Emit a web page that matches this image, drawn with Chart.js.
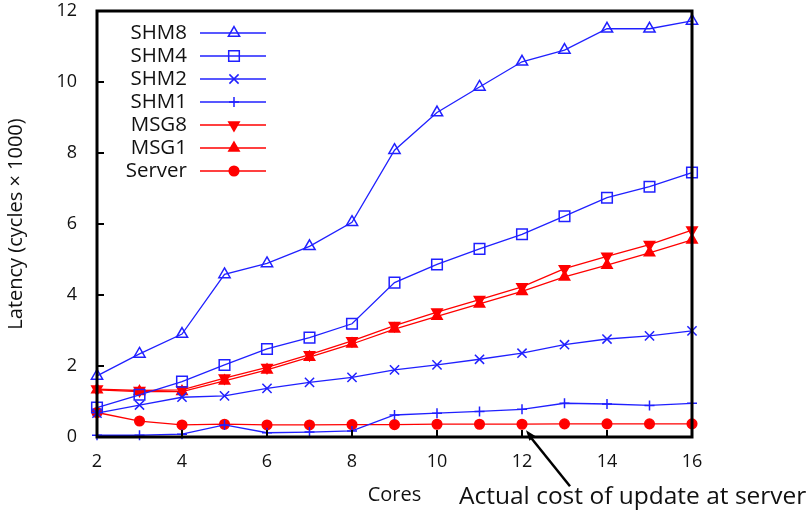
<!DOCTYPE html>
<html>
<head>
<meta charset="utf-8">
<script src="https://cdn.jsdelivr.net/npm/chart.js@4.4.1/dist/chart.umd.min.js"></script>
<style>
html,body{margin:0;padding:0;background:#fff;}
#wrap{width:809px;height:511px;}
</style>
</head>
<body>
<div id="wrap"><canvas id="myChart" width="809" height="511"></canvas></div>
<script>
// cores on x axis
var cores=[2,3,4,5,6,7,8,9,10,11,12,13,14,15,16];
var shm8=[1.72,2.34,2.9,4.58,4.89,5.37,6.05,8.08,9.14,9.86,10.57,10.9,11.5,11.5,11.72];
var shm4=[0.83,1.19,1.56,2.03,2.48,2.8,3.19,4.35,4.86,5.3,5.71,6.22,6.74,7.05,7.45];
var shm2=[0.67,0.9,1.12,1.16,1.37,1.54,1.68,1.89,2.03,2.19,2.36,2.6,2.76,2.85,2.99];
var shm1=[0.05,0.05,0.08,0.34,0.12,0.14,0.17,0.62,0.67,0.72,0.78,0.95,0.93,0.89,0.95];
var msg8=[1.35,1.31,1.33,1.66,1.96,2.32,2.71,3.14,3.52,3.87,4.23,4.74,5.09,5.42,5.83];
var msg1=[1.33,1.28,1.28,1.58,1.89,2.25,2.62,3.04,3.4,3.75,4.1,4.51,4.84,5.19,5.55];
var server=[0.69,0.45,0.34,0.36,0.34,0.34,0.35,0.35,0.36,0.36,0.36,0.37,0.37,0.37,0.37];
var xTicks=[2,4,6,8,10,12,14,16];
var yTicks=[0,2,4,6,8,10,12];

var BLUE='#2020ff', RED='#ff0000';
var FONT='"Open Sans", sans-serif';

function pts(arr){
    var out=[];
    for(var i=0;i<cores.length;i++){ out.push({x:cores[i],y:arr[i]}); }
    return out;
}
function ds(label,arr,color,style,radius,filled,rot){
    return {
        label:label,
        data:pts(arr),
        borderColor:color,
        backgroundColor:color,
        borderWidth:1.3,
        pointStyle:style,
        pointRadius:radius,
        pointRotation:rot||0,
        pointBorderColor:color,
        pointBackgroundColor:filled?color:'rgba(0,0,0,0)',
        pointBorderWidth:1.5,
        tension:0,
        clip:false
    };
}

var frame={
    id:'frame',
    afterDraw:function(chart){
        var ctx=chart.ctx, a=chart.chartArea;
        var xs=chart.scales.x, ys=chart.scales.y;
        ctx.save();
        // tick marks inside
        ctx.strokeStyle='#000';
        ctx.lineWidth=2;
        for(var i=0;i<xTicks.length;i++){
            var px=xs.getPixelForValue(xTicks[i]);
            ctx.beginPath();ctx.moveTo(px,a.bottom);ctx.lineTo(px,a.bottom-7);ctx.stroke();
        }
        for(var j=0;j<yTicks.length;j++){
            var py=ys.getPixelForValue(yTicks[j]);
            ctx.beginPath();ctx.moveTo(a.left,py);ctx.lineTo(a.left+7,py);ctx.stroke();
        }
        ctx.lineWidth=3;
        ctx.strokeRect(a.left,a.top,a.right-a.left,a.bottom-a.top);

        // legend
        ctx.font='20.5px '+FONT;
        ctx.textAlign='right';
        ctx.textBaseline='middle';
        var sets=chart.data.datasets;
        for(var k=0;k<sets.length;k++){
            var d=sets[k], ly=a.top+22+k*23;
            ctx.fillStyle='#111';
            ctx.fillText(d.label,a.left+90,ly);
            ctx.strokeStyle=d.borderColor;
            ctx.lineWidth=1.3;
            ctx.beginPath();ctx.moveTo(a.left+103,ly);ctx.lineTo(a.left+169,ly);ctx.stroke();
            ctx.fillStyle=d.pointBackgroundColor;
            ctx.strokeStyle=d.pointBorderColor;
            ctx.lineWidth=1.5;
            Chart.helpers.drawPoint(ctx,{pointStyle:d.pointStyle,radius:d.pointRadius,rotation:d.pointRotation,borderWidth:1.5},a.left+137,ly);
        }

        // annotation arrow
        var hx=xs.getPixelForValue(12)+4, hy=ys.getPixelForValue(server[10])+6;
        var tx=hx+44, ty=hy+56;
        ctx.strokeStyle='#000';ctx.fillStyle='#000';ctx.lineWidth=2.5;
        ctx.beginPath();ctx.moveTo(tx,ty);ctx.lineTo(hx+3,hy+5);ctx.stroke();
        var ang=Math.atan2(hy-ty,hx-tx);
        ctx.beginPath();
        ctx.moveTo(hx,hy);
        ctx.lineTo(hx-11*Math.cos(ang-0.35),hy-11*Math.sin(ang-0.35));
        ctx.lineTo(hx-11*Math.cos(ang+0.35),hy-11*Math.sin(ang+0.35));
        ctx.closePath();ctx.fill();
        ctx.font='24.5px '+FONT;
        ctx.textAlign='left';
        ctx.fillStyle='#111';
        ctx.fillText('Actual cost of update at server',459,497);
        ctx.restore();
    }
};

var chartContainer=document.getElementById('myChart');
var myChart=new Chart(chartContainer,{
    type:'line',
    data:{
        datasets:[
            ds('SHM8',shm8,BLUE,'triangle',6.5,false),
            ds('SHM4',shm4,BLUE,'rect',7.5,false),
            ds('SHM2',shm2,BLUE,'crossRot',6.5,false),
            ds('SHM1',shm1,BLUE,'cross',5,false),
            ds('MSG8',msg8,RED,'triangle',6,true,180),
            ds('MSG1',msg1,RED,'triangle',6,true),
            ds('Server',server,RED,'circle',4.8,true)
        ]
    },
    options:{
        responsive:false,
        animation:false,
        layout:{padding:{left:0,top:11,right:117,bottom:0}},
        plugins:{legend:{display:false},tooltip:{enabled:false}},
        scales:{
            x:{
                type:'linear',min:2,max:16,
                afterBuildTicks:function(s){s.ticks=xTicks.map(function(v){return {value:v};});},
                afterFit:function(s){s.height=74;s.paddingLeft=0;s.paddingRight=0;},
                grid:{display:false},
                border:{display:false},
                ticks:{color:'#111',font:{family:FONT,size:18},padding:6,maxRotation:0},
                title:{display:true,text:'Cores',color:'#111',font:{family:FONT,size:20},padding:{top:6}}
            },
            y:{
                min:0,max:12,
                afterBuildTicks:function(s){s.ticks=yTicks.map(function(v){return {value:v};});},
                afterFit:function(s){s.width=97;s.paddingTop=0;s.paddingBottom=0;},
                grid:{display:false},
                border:{display:false},
                ticks:{color:'#111',font:{family:FONT,size:18},padding:12},
                title:{display:true,text:'Latency (cycles \u00d7 1000)',color:'#111',font:{family:FONT,size:20},padding:{bottom:2}}
            }
        }
    },
    plugins:[frame]
});
</script>
</body>
</html>
